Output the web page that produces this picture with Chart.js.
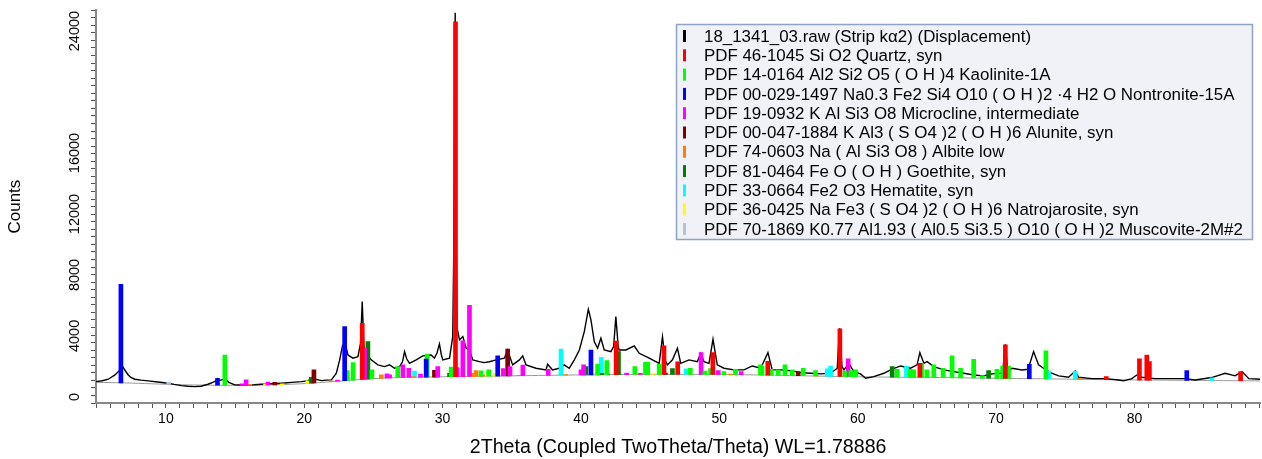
<!DOCTYPE html>
<html>
<head>
<meta charset="utf-8">
<script src="https://cdn.jsdelivr.net/npm/chart.js@4.4.1/dist/chart.umd.min.js"></script>
<style>
  html, body { margin: 0; padding: 0; background: #fff; }
  #wrap { width: 1262px; height: 459px; }
</style>
</head>
<body>
<div id="wrap"><canvas id="xrdChart" width="1262" height="459"></canvas></div>
<script>
// measured scan (2Theta, counts)
const scanDeg = [4.95,5.4,5.84,6.32,6.61,6.9,7.08,7.28,7.47,7.76,8.2,8.72,9.42,10.17,10.6,11.13,11.6,12.09,12.53,13.05,13.39,13.77,14.0,14.3,14.55,14.98,15.5,15.92,16.4,16.9,17.6,18.35,19.1,19.79,20.25,20.51,20.63,20.85,21.24,21.6,21.96,22.32,22.56,22.75,22.92,23.16,23.52,23.88,24.07,24.19,24.31,24.48,24.84,25.32,25.8,26.17,26.53,26.89,27.1,27.25,27.4,27.61,28.09,28.57,29.17,29.41,29.6,29.77,29.9,30.01,30.5,30.73,30.8,30.91,31.0,31.05,31.22,31.46,31.7,31.94,32.18,32.66,33.0,33.38,33.87,34.46,34.7,35.06,35.55,35.79,36.03,36.75,37.47,37.59,37.95,38.43,38.79,39.15,39.52,39.88,40.24,40.53,40.72,40.96,41.2,41.44,41.68,42.16,42.36,42.52,42.69,42.76,43.25,43.85,44.21,44.93,45.65,45.89,46.08,46.25,46.61,46.97,47.21,47.81,48.41,48.65,48.89,49.25,49.54,49.85,50.33,51.06,51.78,52.38,52.99,53.51,53.82,54.43,55.15,55.87,56.6,57.32,58.04,58.52,58.69,58.86,59.0,59.36,59.72,60.2,60.57,61.16,61.89,62.37,63.09,63.81,64.29,64.49,64.78,65.01,65.5,66.22,66.94,67.66,68.38,69.1,69.7,70.47,70.67,70.84,71.15,71.87,72.31,72.71,73.07,73.43,73.92,74.52,75.24,75.72,75.96,76.92,77.88,78.85,79.21,79.81,80.17,80.53,81.49,82.69,83.66,84.38,85.58,86.55,87.27,87.78,88.26,89.09]
const scanCounts = [1000,1060,1160,1440,1700,1950,1700,1440,1280,1160,1100,1050,980,900,820,740,700,675,700,830,950,1115,1100,1200,950,790,780,790,800,830,860,900,950,1000,1050,1200,1330,1150,1070,1100,1115,1550,2430,3300,3630,2750,2540,2640,3520,6250,3300,2860,2430,2100,1990,2100,1880,1990,2300,2970,2500,2200,2430,2690,2750,2540,2900,3475,2800,2430,2540,3950,9200,25200,9000,4500,3740,3960,3190,3080,2430,2310,2250,2310,2430,2540,3080,2100,2430,2690,2100,1880,1770,2140,1770,1880,2100,1880,2430,3080,4280,5750,5050,3630,3190,3850,3080,2970,3300,5270,3300,3080,3080,3340,2860,2540,2200,3950,2400,2100,2430,3190,2200,2430,2310,2860,2310,2200,3780,2100,1880,1770,1770,2030,1880,2900,1770,1770,1720,1590,1550,1510,1550,1880,4500,2000,1770,2200,1660,1510,1220,1330,1550,1770,2030,1880,2100,2900,2200,2310,1990,1770,1660,1550,1440,1380,1510,1560,3450,1700,1880,1770,1810,2970,2100,1880,1590,1380,1290,1700,1290,1200,1200,1110,1050,1200,1440,1290,1200,1200,1200,1110,1270,1550,1380,1660,1200,1160]

// fitted background curve
const bgDeg = [4.95,7,9,11,13,15,17,19,20.5,22,23.5,25,27,30,34,38,42,46,50,54,58,62,66,70,74,78,82,86,89.09]
const bgCounts = [950,920,860,800,770,760,780,830,900,1000,1100,1200,1270,1320,1370,1420,1460,1480,1470,1420,1350,1300,1270,1220,1180,1130,1100,1070,1050]

// reference patterns: stick position, stick top, stick foot (on background)
const quartzDeg = [24.19,30.93,42.54,46.0,46.99,49.53,53.5,58.71,64.49,70.67,77.96,80.36,80.89,81.08,87.67]
const quartzTop = [4830,24600,3660,3350,2300,2900,2330,4470,2200,3410,1330,2490,2750,2310,1660]
const quartzBase = [1150,1330,1460,1480,1480,1470,1430,1340,1290,1220,1130,1100,1100,1100,1060]

const kaoliniteDeg = [14.26,23.1,23.53,24.89,26.76,28.88,30.62,32.78,33.33,41.2,41.87,43.89,44.66,44.82,45.65,47.9,48.95,49.36,50.33,51.17,52.97,53.08,53.75,54.25,54.74,55.27,56.06,56.95,59.07,59.5,59.85,62.85,63.81,64.05,64.61,64.99,65.5,66.17,66.82,67.43,68.38,69.0,70.06,70.47,70.9,73.6]
const kaoliniteTop = [2740,1720,2250,1770,1990,2810,1950,1710,1770,2140,2380,1990,2270,2270,2160,1880,1700,1860,1660,1810,2100,2000,1810,1770,2100,1770,1880,1720,1700,1720,1770,1810,1810,1770,2200,1770,2100,1880,2690,1880,2470,1400,1810,2030,2030,3020]
const kaoliniteBase = [770,1070,1100,1190,1260,1290,1330,1355,1360,1450,1460,1470,1475,1475,1480,1475,1475,1470,1465,1455,1435,1435,1425,1415,1410,1400,1385,1370,1335,1330,1325,1295,1290,1285,1280,1280,1275,1270,1260,1250,1240,1230,1220,1215,1210,1185]

const nontroniteDeg = [6.75,13.73,22.92,28.81,33.98,40.72,72.4,83.78]
const nontroniteTop = [7390,1220,4610,2480,2690,3080,2140,1720]
const nontroniteBase = [920,765,1060,1290,1365,1445,1195,1085]

const microclineDeg = [15.5,15.8,17.38,22.4,24.36,25.98,26.17,27.13,27.56,28.4,29.65,31.05,31.46,31.94,34.39,34.87,35.8,37.63,40.0,40.19,43.3,44.3,48.68,49.92,51.58,59.31]
const microclineTop = [860,1115,965,1100,3210,1510,1440,2100,1880,1490,1990,1920,3680,6010,1860,1990,2080,1810,1770,2100,1560,1540,2910,1720,1660,2500]
const microclineBase = [760,760,780,1040,1160,1240,1245,1270,1275,1285,1300,1330,1335,1340,1370,1375,1385,1405,1440,1440,1465,1470,1475,1470,1455,1330]

const aluniteDeg = [17.87,20.7,29.41,34.7,46.1,55.7]
const aluniteTop = [960,1770,1745,3130,1560,1660]
const aluniteBase = [790,920,1300,1370,1480,1395]

const albiteDeg = [16.06,21.96,25.57,27.9,32.18,32.42,32.9,35.5,38.9,44.0,50.8,57.0,76.0]
const albiteTop = [820,1060,1440,1330,1550,1720,1450,1420,1470,1500,1500,1400,1230]
const albiteBase = [770,1000,1220,1280,1350,1350,1355,1385,1425,1470,1460,1370,1160]

const goethiteDeg = [20.51,24.6,30.5,40.36,41.5,41.93,42.71,46.61,62.49,69.46]
const goethiteTop = [1290,3630,1550,1990,1550,1500,2970,1860,1990,1720]
const goethiteBase = [900,1170,1330,1440,1455,1460,1465,1480,1300,1225]

const hematiteDeg = [27.97,38.56,41.46,47.6,57.8,58.04,63.52,73.8,75.72,85.6]
const hematiteTop = [1700,3130,2600,1840,1840,2030,2030,1700,1700,1250]
const hematiteBase = [1285,1420,1455,1480,1355,1350,1290,1185,1160,1075]

const natrojarositeDeg = [17.2,18.4,20.27,33.27,33.81,45.2]
const natrojarositeTop = [850,860,1050,1590,1550,1540]
const natrojarositeBase = [780,810,890,1360,1365,1480]

const muscoviteDeg = [10.2,23.16,40.9,41.7,60.0]
const muscoviteTop = [960,1200,1520,1520,1380]
const muscoviteBase = [830,1075,1445,1455,1320]

const legendLabels = [
  '18_1341_03.raw (Strip k\u03b12) (Displacement)',
  'PDF 46-1045 Si O2 Quartz, syn',
  'PDF 14-0164 Al2 Si2 O5 ( O H )4 Kaolinite-1A',
  'PDF 00-029-1497 Na0.3 Fe2 Si4 O10 ( O H )2 \u00b74 H2 O Nontronite-15A',
  'PDF 19-0932 K Al Si3 O8 Microcline, intermediate',
  'PDF 00-047-1884 K Al3 ( S O4 )2 ( O H )6 Alunite, syn',
  'PDF 74-0603 Na ( Al Si3 O8 ) Albite low',
  'PDF 81-0464 Fe O ( O H ) Goethite, syn',
  'PDF 33-0664 Fe2 O3 Hematite, syn',
  'PDF 36-0425 Na Fe3 ( S O4 )2 ( O H )6 Natrojarosite, syn',
  'PDF 70-1869 K0.77 Al1.93 ( Al0.5 Si3.5 ) O10 ( O H )2 Muscovite-2M#2'
]
const legendColors = ['#000000','#ff0000','#00ff00','#0000ff','#ff00ff','#800000','#ff8000','#008000','#00ffff','#ffff00','#b0c4de']

const yLabelValues = [0, 4000, 8000, 12000, 16000, 24000]

const FONT = '"Liberation Sans", Arial, sans-serif'

function sticks(label, color, deg, top, base) {
  return {
    type: 'bar',
    label: label,
    data: deg.map((d, i) => ({ x: d, y: [base[i], top[i]] })),
    backgroundColor: color,
    borderWidth: 0,
    barThickness: 4,
    grouped: false,
    order: 0
  }
}

const overlay = {
  id: 'overlay',
  afterDraw(chart) {
    const ctx = chart.ctx
    const yScale = chart.scales.y
    ctx.save()
    // rotated y tick labels
    ctx.fillStyle = '#000'
    ctx.font = '14.5px ' + FONT
    ctx.textAlign = 'center'
    ctx.textBaseline = 'middle'
    yLabelValues.forEach(v => {
      ctx.save()
      ctx.translate(75, yScale.getPixelForValue(v))
      ctx.rotate(-Math.PI / 2)
      ctx.fillText(String(v), 0, 0)
      ctx.restore()
    })

    // legend box
    const bx = 676.5, by = 24.5, bw = 576, bh = 215
    ctx.fillStyle = '#f0f2f7'
    ctx.fillRect(bx, by, bw, bh)
    ctx.strokeStyle = '#8ea3c3'
    ctx.lineWidth = 1.5
    ctx.strokeRect(bx, by, bw, bh)
    ctx.font = '16.9px ' + FONT
    ctx.textAlign = 'left'
    legendLabels.forEach((txt, i) => {
      const cy = 36 + i * 19.3
      ctx.fillStyle = legendColors[i]
      ctx.fillRect(683, cy - 6, 3, 12)
      ctx.fillStyle = '#000'
      ctx.fillText(txt, 704, cy + 1)
    })
    ctx.restore()
  }
}

const datasets = [
  sticks(legendLabels[1], legendColors[1], quartzDeg, quartzTop, quartzBase),
  sticks(legendLabels[3], legendColors[3], nontroniteDeg, nontroniteTop, nontroniteBase),
  sticks(legendLabels[2], legendColors[2], kaoliniteDeg, kaoliniteTop, kaoliniteBase),
  sticks(legendLabels[4], legendColors[4], microclineDeg, microclineTop, microclineBase),
  sticks(legendLabels[5], legendColors[5], aluniteDeg, aluniteTop, aluniteBase),
  sticks(legendLabels[6], legendColors[6], albiteDeg, albiteTop, albiteBase),
  sticks(legendLabels[7], legendColors[7], goethiteDeg, goethiteTop, goethiteBase),
  sticks(legendLabels[8], legendColors[8], hematiteDeg, hematiteTop, hematiteBase),
  sticks(legendLabels[9], legendColors[9], natrojarositeDeg, natrojarositeTop, natrojarositeBase),
  sticks(legendLabels[10], legendColors[10], muscoviteDeg, muscoviteTop, muscoviteBase),
  {
    type: 'line',
    label: legendLabels[0],
    data: scanDeg.map((d, i) => ({ x: d, y: scanCounts[i] })),
    borderColor: '#000',
    borderWidth: 1.4,
    pointRadius: 0,
    tension: 0,
    order: 1
  },
  {
    type: 'line',
    label: 'Background',
    data: bgDeg.map((d, i) => ({ x: d, y: bgCounts[i] })),
    borderColor: '#9a9a9a',
    borderWidth: 1,
    pointRadius: 0,
    tension: 0.4,
    order: 2
  }
]

new Chart(document.getElementById('xrdChart'), {
  type: 'bar',
  data: { datasets: datasets },
  options: {
    responsive: false,
    animation: false,
    layout: { padding: { top: 10, right: 0, bottom: 0, left: 0 } },
    plugins: {
      legend: { display: false },
      tooltip: { enabled: false }
    },
    scales: {
      x: {
        type: 'linear',
        min: 4.95,
        max: 89.09,
        offset: false,
        grid: { display: true, drawOnChartArea: false, offset: false, tickLength: 5, color: '#555' },
        border: { display: true, color: '#888', width: 2 },
        ticks: {
          stepSize: 1,
          autoSkip: false,
          includeBounds: false,
          maxRotation: 0,
          padding: 3,
          color: '#000',
          font: { family: FONT, size: 14 },
          callback: v => (v % 10 === 0 ? String(v) : '')
        },
        title: {
          display: true,
          text: '2Theta (Coupled TwoTheta/Theta) WL=1.78886',
          color: '#000',
          font: { family: FONT, size: 19.6 },
          padding: { top: 0, bottom: 0 }
        },
        afterFit: s => { s.height = 56 }
      },
      y: {
        min: -400,
        max: 25370,
        grid: { display: true, drawOnChartArea: false, tickLength: 5, color: '#555' },
        border: { display: true, color: '#888', width: 2 },
        ticks: {
          stepSize: 500,
          autoSkip: false,
          includeBounds: false,
          callback: () => ''
        },
        title: {
          display: true,
          text: 'Counts',
          color: '#000',
          font: { family: FONT, size: 17 },
          padding: { top: 5, bottom: 0 }
        },
        afterFit: s => { s.width = 96 }
      }
    }
  },
  plugins: [overlay]
})
</script>
</body>
</html>
